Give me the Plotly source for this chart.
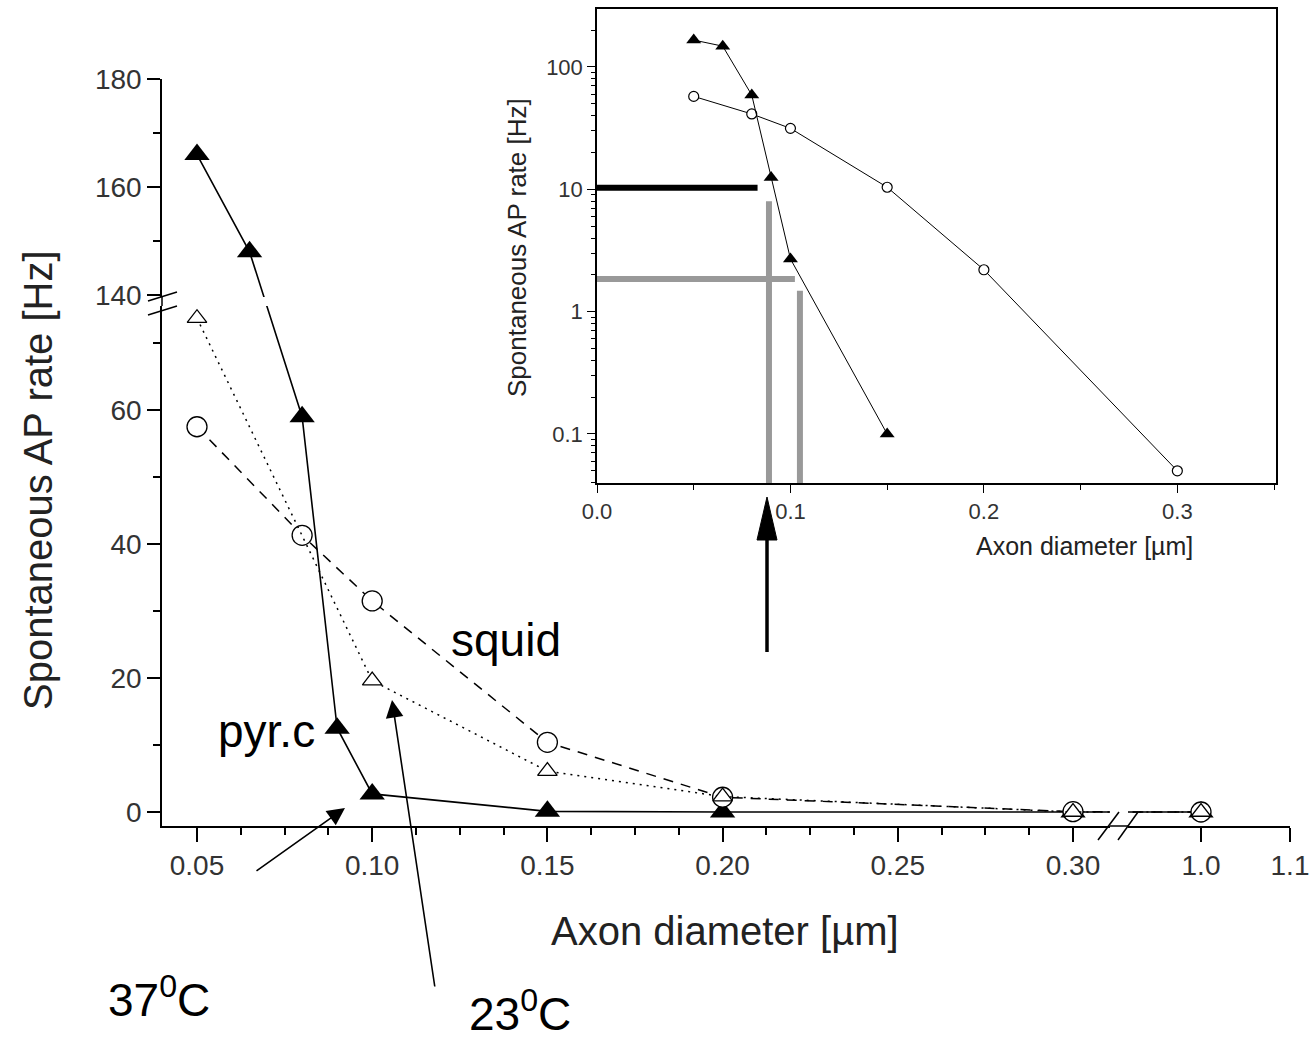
import plotly.graph_objects as go

W, H = 1310, 1040
FONT = "Liberation Sans, Arial, sans-serif"

# ---------------- data ----------------
diam_37 = [0.05, 0.065, 0.08, 0.09, 0.10, 0.15, 0.20, 0.30, 1.0]
rate_37 = [166, 148, 59, 12.5, 2.7, 0.1, 0.01, 0, 0]          # pyr.c 37 C (filled triangles)
diam_23 = [0.05, 0.10, 0.15, 0.20, 0.30, 1.0]
rate_23 = [73.7, 19.6, 6.1, 2.3, 0, 0]                        # pyr.c 23 C (open triangles)
diam_squid = [0.05, 0.08, 0.10, 0.15, 0.20, 0.30, 1.0]
rate_squid = [57.5, 41.3, 31.5, 10.4, 2.2, 0.05, 0]           # squid (open circles)

main_x_ticks_low = [0.05, 0.10, 0.15, 0.20, 0.25, 0.30]
main_x_ticks_high = [1.0, 1.1]
main_y_ticks_low = [0, 20, 40, 60]
main_y_ticks_high = [140, 160, 180]
inset_x_ticks = [0.0, 0.1, 0.2, 0.3]
inset_y_ticks = [0.1, 1, 10, 100]
inset_y_ticktext = ["0.1", "1", "10", "100"]

# guide lines drawn in the inset (data coordinates)
guide_black_h = dict(x0=0.0, x1=0.083, y=10.3)
guide_gray_v1 = dict(x=0.0889, y0=0.035, y1=8.0)
guide_gray_h = dict(x0=0.0, x1=0.1023, y=1.85)
guide_gray_v2 = dict(x=0.1049, y0=0.035, y1=1.48)

# ---------------- geometry (pixels) ----------------
def px(x):
    return x / W

def py(y):
    return 1 - y / H

X1_PX = (162, 1110)
X2_PX = (1128, 1290)
Y1_PX = (306, 826)   # top, bottom
Y2_PX = (79, 297)
X1_RANGE = [0.05 - 35 / 3504, 0.05 + (1110 - 197) / 3504]
X2_RANGE = [1.0 - 73 / 890, 1.1]
Y1_RANGE = [-(826 - 812) / 6.7, (812 - 306) / 6.7]
Y2_RANGE = [180 - (297 - 79) / 5.4, 180]
INSET_X_PX = (597, 1276)
INSET_Y_PX = (9, 483)
INSET_X_RANGE = [0, 0.351]
INSET_Y_RANGE = [-1.4006, 2.474]


def v2p_y1(v):
    return Y1_PX[1] - (v - Y1_RANGE[0]) / (Y1_RANGE[1] - Y1_RANGE[0]) * (Y1_PX[1] - Y1_PX[0])


def p2v_y1(p):
    return Y1_RANGE[0] + (Y1_PX[1] - p) / (Y1_PX[1] - Y1_PX[0]) * (Y1_RANGE[1] - Y1_RANGE[0])


def v2p_y2(v):
    return Y2_PX[1] - (v - Y2_RANGE[0]) / (Y2_RANGE[1] - Y2_RANGE[0]) * (Y2_PX[1] - Y2_PX[0])


def p2v_y2(p):
    return Y2_RANGE[0] + (Y2_PX[1] - p) / (Y2_PX[1] - Y2_PX[0]) * (Y2_RANGE[1] - Y2_RANGE[0])


def to_lower(vals):
    # broken axis: values above the break continue along the same screen line
    return [v if v <= Y1_RANGE[1] else p2v_y1(v2p_y2(v)) for v in vals]


def to_upper(vals):
    return [v if v >= Y2_RANGE[0] else p2v_y2(v2p_y1(v)) for v in vals]


fig = go.Figure()

style_37 = dict(line=dict(color="black", width=1.6),
                marker=dict(symbol="triangle-up", size=22, color="black"))
style_squid = dict(line=dict(color="black", width=1.5, dash="10px,8px"),
                   marker=dict(symbol="circle", size=20, color="white",
                               line=dict(color="black", width=1.3)))
style_23 = dict(line=dict(color="black", width=1.5, dash="2px,5px"),
                marker=dict(symbol="triangle-up", size=17, color="white",
                            line=dict(color="black", width=1.3)))

for xa in ["x", "x2"]:
    fig.add_trace(go.Scatter(x=diam_37, y=to_lower(rate_37), mode="lines+markers",
                             xaxis=xa, yaxis="y", showlegend=False, **style_37))
    fig.add_trace(go.Scatter(x=diam_squid, y=rate_squid, mode="lines+markers",
                             xaxis=xa, yaxis="y", showlegend=False, **style_squid))
    fig.add_trace(go.Scatter(x=diam_23, y=rate_23, mode="lines+markers",
                             xaxis=xa, yaxis="y", showlegend=False, **style_23))

fig.add_trace(go.Scatter(x=diam_37, y=to_upper(rate_37), mode="lines+markers",
                         xaxis="x", yaxis="y2", showlegend=False, **style_37))

# inset (log scale)
in37 = [(d, r) for d, r in zip(diam_37, rate_37) if r >= 0.05 and d <= 0.35]
insq = [(d, r) for d, r in zip(diam_squid, rate_squid) if r > 0 and d <= 0.35]
fig.add_trace(go.Scatter(x=[d for d, _ in insq], y=[r for _, r in insq], mode="lines+markers",
                         xaxis="x3", yaxis="y3", showlegend=False,
                         line=dict(color="black", width=1),
                         marker=dict(symbol="circle", size=10, color="white",
                                     line=dict(color="black", width=1.2))))
fig.add_trace(go.Scatter(x=[d for d, _ in in37], y=[r for _, r in in37], mode="lines+markers",
                         xaxis="x3", yaxis="y3", showlegend=False,
                         line=dict(color="black", width=1),
                         marker=dict(symbol="triangle-up", size=13, color="black")))

axis_common = dict(showgrid=False, zeroline=False, showline=True, linecolor="black",
                   linewidth=1.5, ticks="outside", tickcolor="black", tickwidth=1.5,
                   automargin=False,
                   tickfont=dict(family=FONT, size=28, color="#333"))

minor_main = dict(ticks="outside", ticklen=7, tickcolor="black", tickwidth=1.5)

fig.update_layout(
    width=W, height=H, margin=dict(l=0, r=0, t=0, b=0),
    paper_bgcolor="white", plot_bgcolor="white",
    xaxis=dict(axis_common, domain=[px(X1_PX[0]), px(X1_PX[1])], range=X1_RANGE, anchor="y",
               tickmode="array", tickvals=main_x_ticks_low, tickformat=".2f", ticklen=14,
               minor=dict(minor_main, dtick=0.0125, tick0=0)),
    xaxis2=dict(axis_common, domain=[px(X2_PX[0]), px(X2_PX[1])], range=X2_RANGE, anchor="y",
                tickmode="array", tickvals=main_x_ticks_high, tickformat=".1f", ticklen=14),
    yaxis=dict(axis_common, domain=[py(Y1_PX[1]), py(Y1_PX[0])], range=Y1_RANGE, anchor="x",
               tickmode="array", tickvals=main_y_ticks_low, ticklen=13,
               minor=dict(minor_main, dtick=10, tick0=0)),
    yaxis2=dict(axis_common, domain=[py(Y2_PX[1]), py(Y2_PX[0])], range=Y2_RANGE, anchor="x",
                tickmode="array", tickvals=main_y_ticks_high, ticklen=13,
                minor=dict(minor_main, dtick=10, tick0=0)),
    xaxis3=dict(axis_common, domain=[px(INSET_X_PX[0]), px(INSET_X_PX[1])], range=INSET_X_RANGE,
                anchor="y3", mirror=True, tickmode="array", tickvals=inset_x_ticks,
                tickformat=".1f", ticklen=8, tickwidth=1.2,
                tickfont=dict(family=FONT, size=22, color="#333"),
                minor=dict(ticks="outside", ticklen=5, tickcolor="black", tickwidth=1.2,
                           dtick=0.05, tick0=0)),
    yaxis3=dict(axis_common, type="log", domain=[py(INSET_Y_PX[1]), py(INSET_Y_PX[0])],
                range=INSET_Y_RANGE, anchor="x3", mirror=True, tickmode="array",
                tickvals=inset_y_ticks, ticktext=inset_y_ticktext, ticklen=8, tickwidth=1.2,
                tickfont=dict(family=FONT, size=22, color="#333"),
                minor=dict(ticks="outside", ticklen=4, tickcolor="black", tickwidth=1,
                           tickmode="array",
                           tickvals=[k * 10.0 ** e for e in range(-2, 3) for k in range(2, 10)])),
)

shapes = []


def seg(x0, y0, x1, y1, color="black", width=1.5):
    return dict(type="line", xref="paper", yref="paper", x0=px(x0), y0=py(y0),
                x1=px(x1), y1=py(y1), line=dict(color=color, width=width), layer="above")


# axis break marks
shapes += [seg(148, 301, 177, 292), seg(148, 315, 177, 306), seg(162, 297, 162, 306),
           seg(1098, 840, 1119, 812), seg(1118, 840, 1138, 812), seg(1110, 826, 1128, 826)]

# inset guide lines (shape coordinates in data units)
shapes += [
    dict(type="line", xref="x3", yref="y3", x0=guide_black_h["x0"], x1=guide_black_h["x1"],
         y0=guide_black_h["y"], y1=guide_black_h["y"], line=dict(color="black", width=6)),
    dict(type="line", xref="x3", yref="y3", x0=guide_gray_v1["x"], x1=guide_gray_v1["x"],
         y0=guide_gray_v1["y0"], y1=guide_gray_v1["y1"], line=dict(color="#999", width=6)),
    dict(type="line", xref="x3", yref="y3", x0=guide_gray_h["x0"], x1=guide_gray_h["x1"],
         y0=guide_gray_h["y"], y1=guide_gray_h["y"], line=dict(color="#999", width=6)),
    dict(type="line", xref="x3", yref="y3", x0=guide_gray_v2["x"], x1=guide_gray_v2["x"],
         y0=guide_gray_v2["y0"], y1=guide_gray_v2["y1"], line=dict(color="#999", width=6)),
]
# big black arrow under the inset
shapes.append(seg(767, 652, 767, 535, width=3.5))
shapes.append(dict(type="path", xref="paper", yref="paper",
                   path=f"M {px(767)},{py(497)} L {px(757)},{py(540)} L {px(777)},{py(540)} Z",
                   fillcolor="black", line=dict(color="black", width=1), layer="above"))
fig.update_layout(shapes=shapes)

ann = []


def text(x, y, t, size, angle=0, color="black"):
    return dict(x=px(x), y=py(y), xref="paper", yref="paper", text=t, showarrow=False,
                textangle=angle, xanchor="center", yanchor="middle",
                font=dict(family=FONT, size=size, color=color))


ann += [
    text(38, 480, "Spontaneous AP rate [Hz]", 40, -90, "#222"),
    text(725, 931, "Axon diameter [µm]", 40, 0, "#222"),
    text(517, 248, "Spontaneous AP rate [Hz]", 26, -90, "#222"),
    text(1084, 546, "Axon diameter [µm]", 25, 0, "#222"),
    text(506, 640, "squid", 46),
    text(266, 731, "pyr.c", 46),
    text(159, 997, "37<sup>0</sup>C", 46),
    text(520, 1011, "23<sup>0</sup>C", 46),
]
# thin arrows
for (tx, ty, sx, sy) in [(345, 808, 255, 872), (392, 700, 435, 988)]:
    ann.append(dict(x=px(tx), y=py(ty), xref="paper", yref="paper", text="", showarrow=True,
                    ax=sx - tx, ay=sy - ty, arrowhead=2, arrowsize=2.2, arrowwidth=1.6,
                    arrowcolor="black", standoff=0))
fig.update_layout(annotations=ann)

fig.write_html("out.html")
